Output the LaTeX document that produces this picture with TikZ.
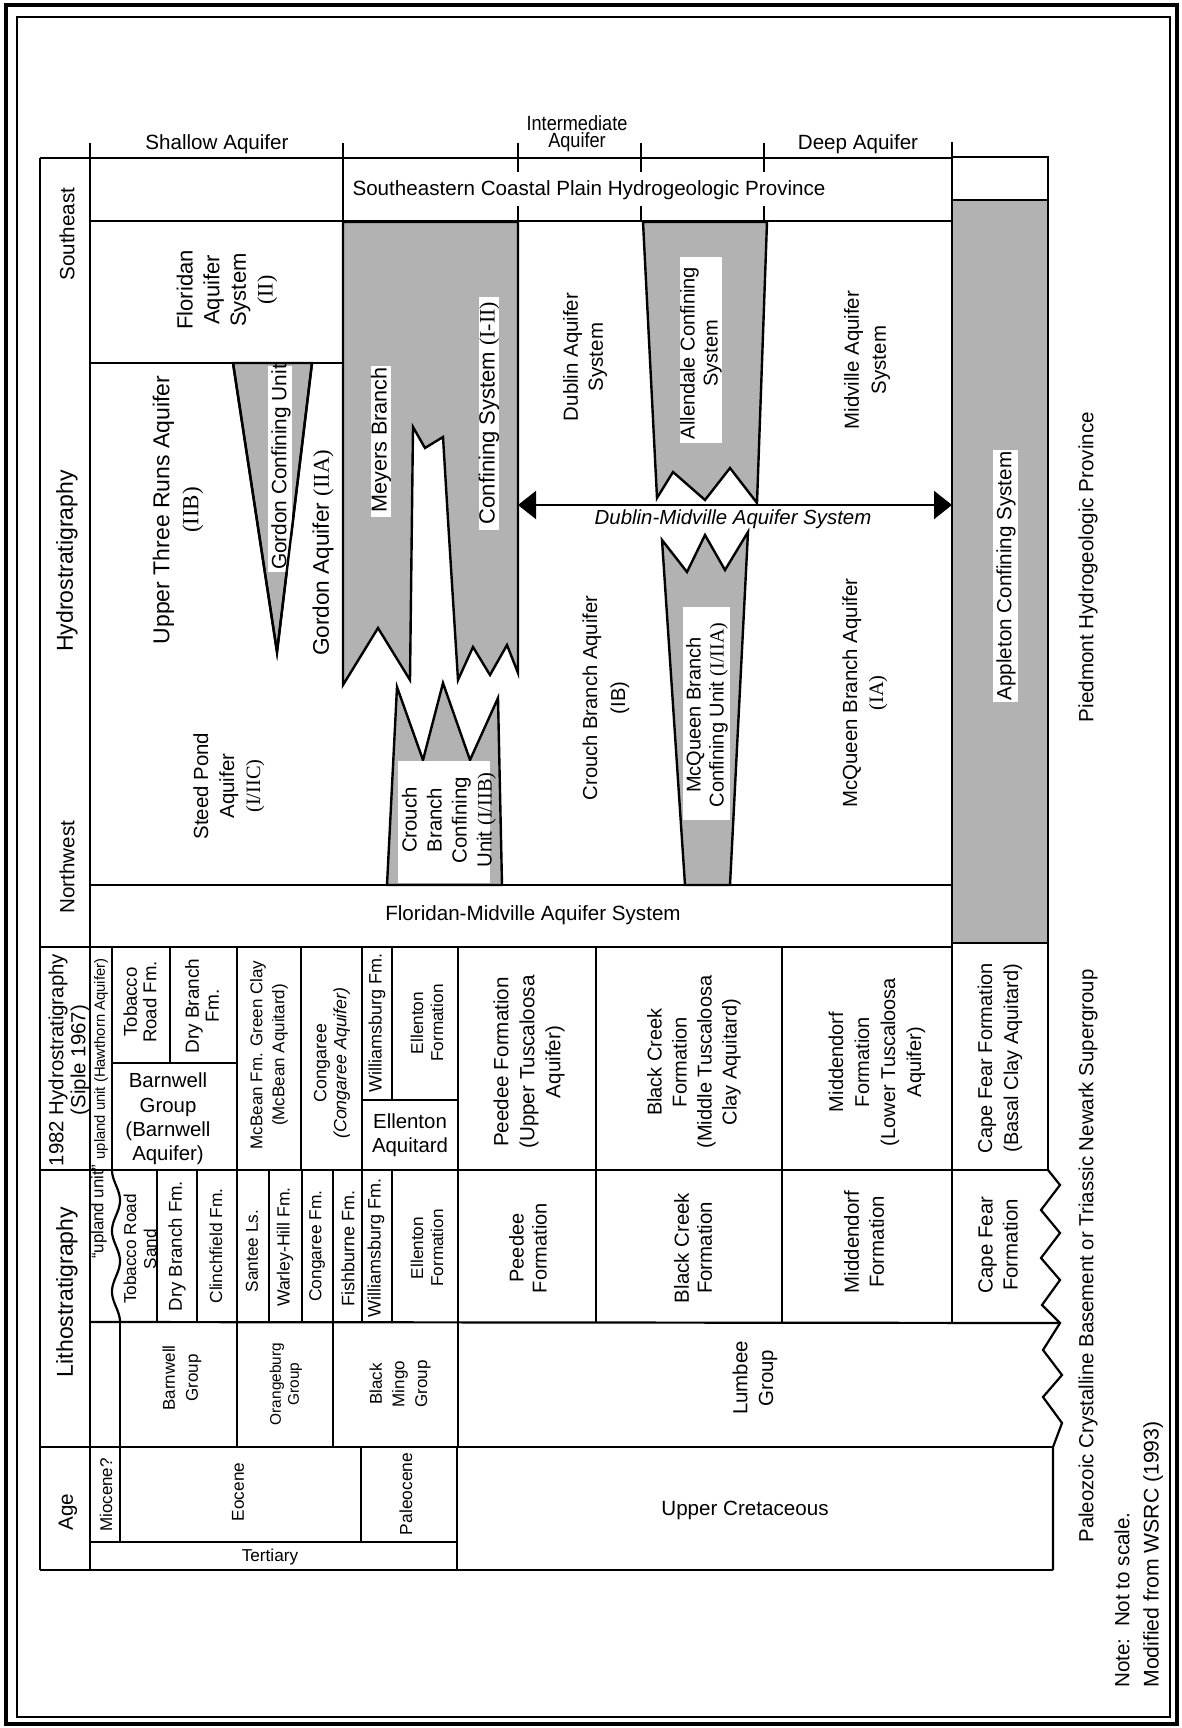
\documentclass[tikz,border=0pt]{standalone}
\usepackage{fontspec}
\setmainfont{Liberation Sans}
\newfontfamily\rnf{Liberation Serif}
\usepackage{graphicx}
\usetikzlibrary{arrows.meta}
\newcommand\myfs[2]{\fontsize{#1}{#2}\selectfont}
\begin{document}
\begin{tikzpicture}[x=0.5pt,y=-0.5pt]
\tikzset{
  tl/.style={line width=1.1pt},
  stip/.style={fill=black!30, draw=black, line width=1.2pt, line join=miter},
  wbox/.style={fill=white, draw=none},
  lb/.style={inner sep=0pt, align=center, font=\myfs{10.3}{12.5}},
  rl/.style={lb, rotate=90},
}
\useasboundingbox (0,0) rectangle (1182,1728);
\fill[white] (0,0) rectangle (1182,1728);

% frame
\draw[line width=2.4pt] (6,5) rectangle (1177,1724);
\draw[line width=0.8pt] (17,17) rectangle (1170,1717);

% ---------- stippled units ----------
\filldraw[stip] (952,200) rectangle (1048,943);
\filldraw[stip] (233,363) -- (312,363) -- (277,652) -- cycle;
\filldraw[stip] (343,222) -- (518,222) -- (518,673) -- (507,645) -- (490,675) -- (473,647) -- (458,680) -- (448,520) -- (443,437) -- (425,448) -- (413,427) -- (410,680) -- (378,628) -- (343,685) -- cycle;
\filldraw[stip] (387,885) -- (397,687) -- (423,760) -- (443,683) -- (470,760) -- (498,698) -- (502,885) -- cycle;
\filldraw[stip] (643,222) -- (767,222) -- (757,503) -- (730,468) -- (705,500) -- (673,472) -- (657,498) -- cycle;
\filldraw[stip] (685,885) -- (662,540) -- (687,572) -- (705,535) -- (725,570) -- (748,532) -- (730,885) -- cycle;

% white label boxes
\fill[wbox] (268,366) rectangle (292,572);
\draw[line width=1.2pt] (233,363) -- (277,652) -- (312,363);
\fill[wbox] (371,366) rectangle (391,517);
\fill[wbox] (479,297) rectangle (499,530);
\fill[wbox] (398,761) rectangle (490,883);
\fill[wbox] (680,257) rectangle (722,443);
\fill[wbox] (683,607) rectangle (730,820);
\fill[wbox] (993,450) rectangle (1018,702);

% ---------- table lines ----------
\draw[tl] (90,143) -- (90,1570);
\draw[tl] (343,143) -- (343,222);
\foreach \xx in {518,641,764} {\draw[tl] (\xx,143) -- (\xx,172); \draw[tl] (\xx,206) -- (\xx,221);}
\draw[tl] (952,142) -- (952,158);
\draw[tl] (40,158) -- (952,158);
\draw[tl] (952,157) rectangle (1048,200);
\draw[tl] (90,221) -- (952,221);
\draw[tl] (40,158) -- (40,1570);
\draw[tl] (90,363) -- (343,363);
\draw[tl] (90,885) -- (952,885);
\draw[tl] (40,947) -- (952,947);
\draw[tl] (952,943) rectangle (1048,1170);
\draw[tl] (40,1170) -- (1048,1170);
% 1982 row
\foreach \xx in {112,237,301,362,458,596,782} \draw[tl] (\xx,947) -- (\xx,1170);
\draw[tl] (170,947) -- (170,1063);
\draw[tl] (392,947) -- (392,1100);
\draw[tl] (112,1063) -- (237,1063);
\draw[tl] (362,1100) -- (458,1100);
% lithostratigraphy
\foreach \xx in {157,197,237,269,302,333,362,392,458,596,782,952} \draw[tl] (\xx,1170) -- (\xx,1322);
\draw[tl] plot[domain=0:152, samples=80, variable=\t] ({116-4*cos(\t*5.921)},{1170+\t});
\draw[tl] (90,1322) -- (1060,1323);
\foreach \xx in {120,237,333,458} \draw[tl] (\xx,1322) -- (\xx,1447);
\draw[tl] (40,1447) -- (1053,1447);
\draw[tl] (1048,1170) -- (1060,1185) -- (1041,1210) -- (1060,1233) -- (1041,1258) -- (1060,1280) -- (1042,1305) -- (1060,1323) -- (1043,1350) -- (1062,1375) -- (1043,1397) -- (1062,1423) -- (1053,1447) -- (1053,1570);
% age
\foreach \xx in {120,361} \draw[tl] (\xx,1447) -- (\xx,1542);
\draw[tl] (457,1447) -- (457,1570);
\draw[tl] (90,1542) -- (457,1542);
\draw[tl] (40,1570) -- (1053,1570);

% Dublin-Midville arrow
\coordinate (dmL) at (518,505);
\coordinate (dmR) at (952,505);
\draw[line width=1pt, {Triangle[length=9pt,width=14pt]}-{Triangle[length=9pt,width=14pt]}] (dmL) -- (dmR);

% ---------- header texts ----------
\node[lb] (shallow) at (217,144) {Shallow Aquifer};
\node[lb, font=\myfs{10.3}{8.6}] (inter) at (577,134) {\scalebox{0.88}[1]{Intermediate}\\\scalebox{0.88}[1]{Aquifer}};
\node[lb] (deep) at (858,144) {Deep Aquifer};
\node[lb] (secp) at (589,190) {Southeastern Coastal Plain Hydrogeologic Province};

% row labels
\node[rl] (se) at (67,234) {Southeast};
\node[rl, font=\myfs{11.5}{13}] (hs) at (67,561) {Hydrostratigraphy};
\node[rl] (nw) at (67,867) {Northwest};
\node[rl, font=\myfs{10.2}{11}] (h82) at (69,1060) {1982 Hydrostratigraphy\\(Siple 1967)};
\node[rl, font=\myfs{11.5}{13}] (litho) at (67,1292) {Lithostratigraphy};
\node[rl] (age) at (68,1512) {Age};

% ---------- hydrostratigraphy ----------
\node[rl, font=\myfs{11}{13.3}] (flor) at (227,290) {Floridan\\Aquifer\\System\\{\rnf (II)}};
\node[rl, font=\myfs{11.5}{14.5}] (utr) at (178,510) {Upper Three Runs Aquifer\\{\rnf (IIB)}};
\node[rl, font=\myfs{10.4}{12}] (gcu) at (281,467) {Gordon Confining Unit};
\node[rl, font=\myfs{11.3}{13}] (ga) at (323,553) {Gordon Aquifer {\rnf (IIA)}};
\node[rl, font=\myfs{10.2}{13}] (sp) at (229,786) {Steed Pond\\Aquifer\\{\rnf (I/IIC)}};
\node[rl, font=\myfs{10.8}{12}] (mb) at (381,440) {Meyers Branch};
\node[rl, font=\myfs{11}{12}] (cs) at (489,413) {Confining System {\rnf (I-II)}};
\node[rl, font=\myfs{10.2}{12.5}] (cbcu) at (449,820) {Crouch\\Branch\\Confining\\Unit {\rnf (I/IIB)}};
\node[rl, font=\myfs{10.1}{14}] (cba) at (606,698) {Crouch Branch Aquifer\\(IB)};
\node[rl, font=\myfs{10.2}{12.5}] (das) at (585,357) {Dublin Aquifer\\System};
\node[rl, font=\myfs{10}{11.5}] (acs) at (701,353) {Allendale Confining\\System};
\node[lb, font=\myfs{10.2}{12}\itshape] (dmas) at (733,519) {Dublin-Midville Aquifer System};
\node[rl, font=\myfs{10}{11.5}] (mbcu) at (707,715) {McQueen Branch\\Confining Unit {\rnf (I/IIA)}};
\node[rl, font=\myfs{10.2}{13.5}] (mas) at (867,360) {Midville Aquifer\\System};
\node[rl, font=\myfs{10.2}{13}] (mba) at (865,693) {McQueen Branch Aquifer\\{\rnf (IA)}};
\node[rl] (app) at (1006,576) {Appleton Confining System};
\node[rl] (pied) at (1088,567) {Piedmont Hydrogeologic Province};
\node[lb] (fmas) at (533,915) {Floridan-Midville Aquifer System};

% ---------- 1982 hydrostratigraphy ----------
\node[rl, font=\myfs{7.4}{8}] (upl) at (101,1059) {upland unit (Hawthorn Aquifer)};
\node[rl, font=\myfs{9.3}{9.8}] (trf) at (140,1002) {Tobacco\\Road Fm.};
\node[rl, font=\myfs{9.5}{10}] (dbf) at (202,1006) {Dry Branch\\Fm.};
\node[lb, font=\myfs{10.2}{12.2}] (bg) at (168,1119) {Barnwell\\Group\\(Barnwell\\Aquifer)};
\node[rl, font=\myfs{8.5}{11}] (mcb) at (269,1055) {McBean Fm. Green Clay\\(McBean Aquitard)};
\node[rl, font=\myfs{8.9}{10}] (cong) at (332,1063) {Congaree\\{\itshape (Congaree Aquifer)}};
\node[rl, font=\myfs{9}{10}] (wb82) at (377,1023) {Williamsburg Fm.};
\node[rl, font=\myfs{8.6}{10}] (ef82) at (427,1023) {Ellenton\\Formation};
\node[lb, font=\myfs{10.2}{12}] (ea) at (410,1135) {Ellenton\\Aquitard};
\node[rl, font=\myfs{10.3}{13}] (pf82) at (529,1062) {Peedee Formation\\(Upper Tuscaloosa\\Aquifer)};
\node[rl, font=\myfs{10}{12.5}] (bc82) at (694,1062) {Black Creek\\Formation\\(Middle Tuscaloosa\\Clay Aquitard)};
\node[rl, font=\myfs{10}{13}] (md82) at (877,1062) {Middendorf\\Formation\\(Lower Tuscaloosa\\Aquifer)};
\node[rl, font=\myfs{10}{13}] (cf82) at (1000,1058) {Cape Fear Formation\\(Basal Clay Aquitard)};

% ---------- lithostratigraphy ----------
\node[rl, font=\myfs{8.4}{10}] (uu) at (99,1212) {``upland unit''};
\node[rl, font=\myfs{8.6}{10}] (trs) at (140,1249) {Tobacco Road\\Sand};
\node[rl, font=\myfs{9.3}{10}] (dbfl) at (177,1246) {Dry Branch Fm.};
\node[rl, font=\myfs{8.7}{10}] (clf) at (216,1246) {Clinchfield Fm.};
\node[rl, font=\myfs{8.6}{10}] (sls) at (252,1251) {Santee Ls.};
\node[rl, font=\myfs{8.8}{10}] (whf) at (285,1247) {Warley-Hill Fm.};
\node[rl, font=\myfs{8.7}{10}] (cgf) at (317,1246) {Congaree Fm.};
\node[rl, font=\myfs{9}{10}] (fbf) at (348,1248) {Fishburne Fm.};
\node[rl, font=\myfs{9}{10}] (wbf) at (376,1248) {Williamsburg Fm.};
\node[rl, font=\myfs{8.6}{10}] (efl) at (427,1248) {Ellenton\\Formation};
\node[rl, font=\myfs{10}{11.5}] (pfl) at (528,1248) {Peedee\\Formation};
\node[rl, font=\myfs{10.2}{11.5}] (bcl) at (693,1248) {Black Creek\\Formation};
\node[rl, font=\myfs{10.2}{12.5}] (mdl) at (864,1242) {Middendorf\\Formation};
\node[rl, font=\myfs{10.2}{12.5}] (cfl) at (998,1245) {Cape Fear\\Formation};
\node[rl, font=\myfs{8.5}{11.5}] (bwg) at (182,1378) {Barnwell\\Group};
\node[rl, font=\myfs{7.7}{9}] (org) at (286,1384) {Orangeburg\\Group};
\node[rl, font=\myfs{8.5}{11.3}] (bmg) at (400,1384) {Black\\Mingo\\Group};
\node[rl, font=\myfs{10.2}{12.8}] (lbg) at (755,1378) {Lumbee\\Group};

% ---------- age ----------
\node[rl, font=\myfs{8.5}{10}] (mio) at (106,1495) {Miocene?};
\node[rl, font=\myfs{8.6}{10}] (eoc) at (238,1492) {Eocene};
\node[rl, font=\myfs{8.7}{10}] (pal) at (406,1494) {Paleocene};
\node[lb, font=\myfs{8.6}{10}] (ter) at (270,1557) {Tertiary};
\node[lb] (uc) at (745,1510) {Upper Cretaceous};

% ---------- right side notes ----------
\node[rl, font=\myfs{10.2}{12}] (pcb) at (1088,1256) {Paleozoic Crystalline Basement or Triassic Newark Supergroup};
\node[rl, anchor=west, font=\myfs{10.3}{12}] (note) at (1122,1688) {Note:\ \ Not to scale.};
\node[rl, anchor=west, font=\myfs{10.6}{12}] (mod) at (1153,1688) {Modified from WSRC (1993)};
\end{tikzpicture}
\end{document}
